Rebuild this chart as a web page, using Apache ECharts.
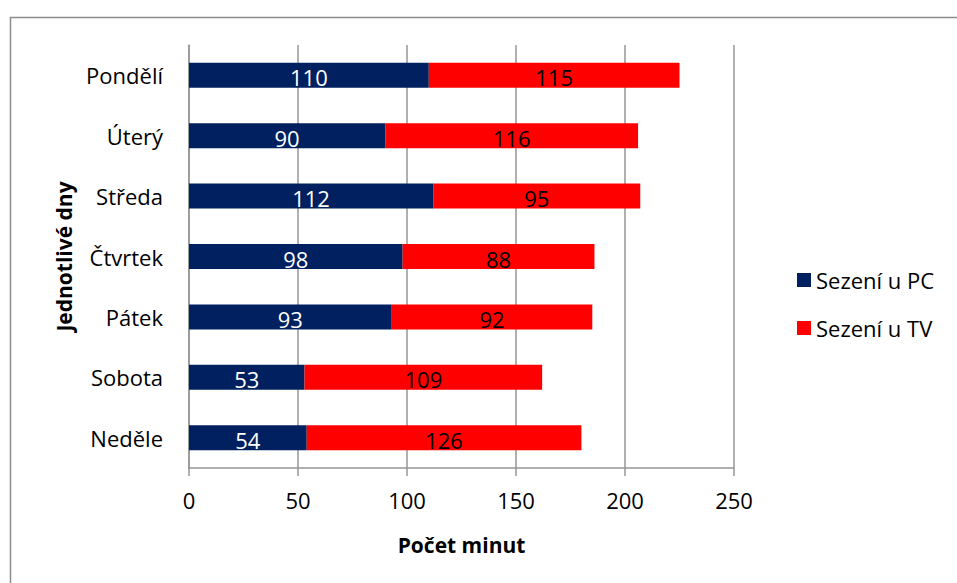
<!DOCTYPE html>
<html>
<head>
<meta charset="utf-8">
<script src="https://cdn.jsdelivr.net/npm/echarts@6/dist/echarts.min.js"></script>
<style>
  html, body { margin: 0; padding: 0; background: #fff; }
  #chart { width: 957px; height: 583px; }
</style>
</head>
<body>
<div id="chart"></div>
<script>
// Minutes per day, PC vs TV
const days = ['Pondělí', 'Úterý', 'Středa', 'Čtvrtek', 'Pátek', 'Sobota', 'Neděle'];
const pcMinutes = [110, 90, 112, 98, 93, 53, 54];
const tvMinutes = [115, 116, 95, 88, 92, 109, 126];
const xTicks = [0, 50, 100, 150, 200, 250];

const FONT = '"Open Sans", "Noto Sans", sans-serif';
const SIZE = 22;
const NAVY = '#002060';
const RED = '#FF0000';
const GRID = '#969696';
const INK = '#000';

const chart = echarts.init(document.getElementById('chart'), null, { renderer: 'svg' });

chart.setOption({
  animation: false,
  textStyle: { fontFamily: FONT, color: INK },
  // outer chart frame (only left/top visible in the reference)
  graphic: [{
    type: 'rect', left: 8, top: 15, silent: true,
    shape: { width: 960, height: 580 },
    style: { fill: 'none', stroke: '#8c8c8c', lineWidth: 1.5 },
  }],
  grid: { left: 189, right: 223, top: 45, bottom: 115 },
  legend: {
    orient: 'vertical', left: 792, top: 263,
    icon: 'rect', itemWidth: 14, itemHeight: 14, itemGap: 24,
    textStyle: { fontFamily: FONT, fontSize: SIZE, color: INK, lineHeight: 24 },
    data: ['Sezení u PC', 'Sezení u TV'],
  },
  xAxis: {
    type: 'value', min: xTicks[0], max: xTicks[xTicks.length - 1], interval: 50,
    name: 'Počet minut', nameLocation: 'middle', nameGap: 66,
    nameTextStyle: { fontFamily: FONT, fontSize: SIZE - 1, fontWeight: 'bold', color: INK },
    axisLine: { show: true, lineStyle: { color: GRID, width: 1.5 } },
    axisTick: { show: true, length: 8, lineStyle: { color: GRID, width: 1.5 } },
    axisLabel: { fontFamily: FONT, fontSize: SIZE, color: INK, margin: 21 },
    splitLine: { show: true, lineStyle: { color: GRID, width: 1.5 } },
  },
  yAxis: {
    type: 'category', data: days, inverse: true,
    name: 'Jednotlivé dny', nameLocation: 'middle', nameGap: 115,
    nameTextStyle: { fontFamily: FONT, fontSize: SIZE - 1, fontWeight: 'bold', color: INK },
    axisLine: { show: true, lineStyle: { color: GRID, width: 1.5 } },
    axisTick: { show: false },
    axisLabel: { fontFamily: FONT, fontSize: SIZE, color: INK, margin: 26 },
  },
  series: [
    {
      name: 'Sezení u PC', type: 'bar', stack: 'total', data: pcMinutes,
      barWidth: 25,
      itemStyle: { color: NAVY },
      label: { show: true, position: 'inside', color: '#fff', fontFamily: FONT, fontSize: SIZE, offset: [0, 2] },
    },
    {
      name: 'Sezení u TV', type: 'bar', stack: 'total', data: tvMinutes,
      barWidth: 25,
      itemStyle: { color: RED },
      label: { show: true, position: 'inside', color: INK, fontFamily: FONT, fontSize: SIZE, offset: [0, 2] },
    },
  ],
});
</script>
</body>
</html>
